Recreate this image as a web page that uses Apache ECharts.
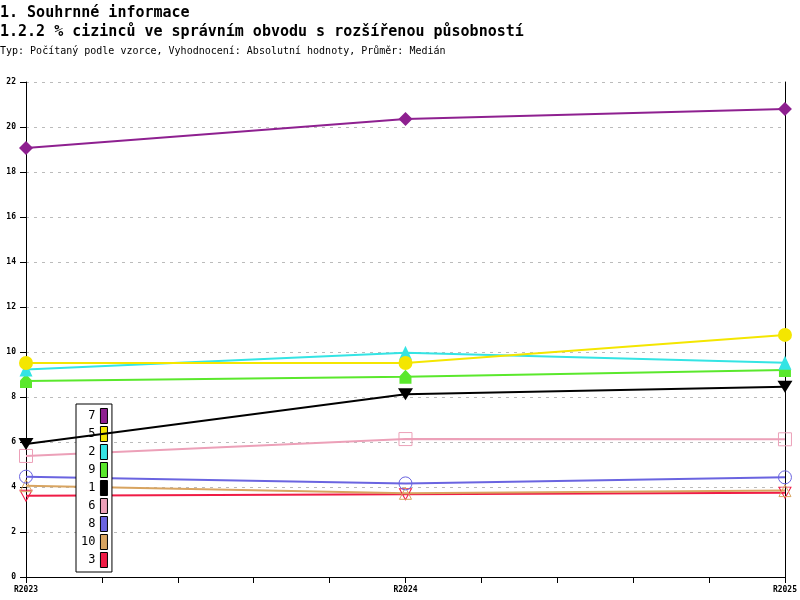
<!DOCTYPE html>
<html>
<head>
<meta charset="utf-8">
<script src="https://cdn.jsdelivr.net/npm/echarts@6/dist/echarts.min.js"></script>
<style>
  html, body { margin: 0; padding: 0; background: #fff; }
  #chart { width: 800px; height: 600px; }
</style>
</head>
<body>
<div id="chart"></div>
<script>
// hodnoty
const categories = ['R2023', 'R2024', 'R2025'];
const names = ['7', '5', '2', '9', '1', '6', '8', '10', '3'];
const s7 = [19.07, 20.36, 20.8];
const s5 = [9.51, 9.51, 10.76];
const s2 = [9.22, 9.97, 9.52];
const s9 = [8.71, 8.9, 9.2];
const s1 = [5.91, 8.12, 8.46];
const s6 = [5.38, 6.13, 6.12];
const s8 = [4.46, 4.16, 4.43];
const s10 = [4.06, 3.72, 3.84];
const s3 = [3.61, 3.68, 3.75];
const yTicks = [0, 22, 2];

const colors = {
  '7': '#8e2090', '5': '#f4e600', '2': '#34e4e4', '9': '#5ae82c', '1': '#000000',
  '6': '#eca0b8', '8': '#6a64e0', '10': '#d8a460', '3': '#f01c46'
};

const mono = 'DejaVu Sans Mono';
const chart = echarts.init(document.getElementById('chart'));

function line(name, values, symbol, size, opts) {
  opts = opts || {};
  const color = colors[name];
  return {
    name: name,
    type: 'line',
    data: values.map((v, i) => [i, v]),
    symbol: symbol,
    symbolSize: size,
    symbolRotate: opts.rotate || 0,
    symbolKeepAspect: true,
    lineStyle: { color: color, width: 2 },
    itemStyle: opts.empty
      ? { color: 'rgba(0,0,0,0)', borderColor: color, borderWidth: 1 }
      : { color: color, borderWidth: 0 },
    z: opts.z || 2,
    animation: false
  };
}

const house = 'path://M6,0 L12,6 L12,13 L0,13 L0,6 Z';

const option = {
  backgroundColor: '#fff',
  animation: false,
  title: [
    { text: '1. Souhrnné informace', left: 0, top: 6, padding: 0,
      textStyle: { fontFamily: mono, fontSize: 15, fontWeight: 'bold', color: '#000' } },
    { text: '1.2.2 % cizinců ve správním obvodu s rozšířenou působností', left: 0, top: 25, padding: 0,
      textStyle: { fontFamily: mono, fontSize: 15, fontWeight: 'bold', color: '#000' } },
    { text: 'Typ: Počítaný podle vzorce, Vyhodnocení: Absolutní hodnoty, Průměr: Medián', left: 0, top: 46, padding: 0,
      textStyle: { fontFamily: mono, fontSize: 10, fontWeight: 'normal', color: '#000' } }
  ],
  legend: {
    orient: 'vertical',
    left: 76,
    top: 404,
    align: 'right',
    data: names.map(n => ({
      name: n,
      itemStyle: { color: colors[n], borderColor: '#000', borderWidth: 1 }
    })),
    icon: 'rect',
    itemWidth: 7,
    itemHeight: 15,
    itemGap: 2,
    padding: [4, 4, 4, 5],
    borderColor: '#000',
    borderWidth: 1,
    backgroundColor: '#fff',
    textStyle: { fontFamily: mono, fontSize: 12, color: '#000' },
    selectedMode: false
  },
  grid: { left: 26, right: 15, top: 82, bottom: 23 },
  xAxis: {
    type: 'value',
    min: 0,
    max: categories.length - 1,
    interval: 1,
    axisLine: { show: true, lineStyle: { color: '#000', width: 1 } },
    axisTick: { show: true, length: 6, lineStyle: { color: '#000' } },
    minorTick: { show: true, splitNumber: 5, length: 6, lineStyle: { color: '#000' } },
    splitLine: { show: false },
    axisLabel: {
      fontFamily: mono, fontSize: 8, fontWeight: 'bold', color: '#000', margin: 9,
      formatter: v => categories[Math.round(v)] || ''
    }
  },
  yAxis: [
    {
      type: 'value',
      min: yTicks[0],
      max: yTicks[1],
      interval: yTicks[2],
      axisLine: { show: true, lineStyle: { color: '#000', width: 1 } },
      axisTick: { show: true, length: 6, lineStyle: { color: '#000' } },
      splitLine: { show: true, lineStyle: { color: '#bbb', type: [3, 5], width: 1 } },
      axisLabel: { fontFamily: mono, fontSize: 8, fontWeight: 'bold', color: '#000', margin: 10 }
    },
    {
      type: 'value',
      position: 'right',
      min: yTicks[0],
      max: yTicks[1],
      interval: yTicks[2],
      axisLine: { show: true, lineStyle: { color: '#000', width: 1 } },
      axisTick: { show: false },
      splitLine: { show: false },
      axisLabel: { show: false }
    }
  ],
  series: [
    line('3', s3, 'triangle', [12, 11], { empty: true, rotate: 180, z: 2 }),
    line('10', s10, 'triangle', [12, 12], { empty: true, z: 2 }),
    line('8', s8, 'circle', 13, { empty: true, z: 3 }),
    line('6', s6, 'rect', 13, { empty: true, z: 3 }),
    line('1', s1, 'triangle', [15, 12], { rotate: 180, z: 4 }),
    line('9', s9, house, [13, 14], { z: 4 }),
    line('2', s2, 'triangle', [13, 14], { z: 5 }),
    line('5', s5, 'circle', 14, { z: 6 }),
    line('7', s7, 'diamond', [14, 14], { z: 6 })
  ]
};

chart.setOption(option);
</script>
</body>
</html>
